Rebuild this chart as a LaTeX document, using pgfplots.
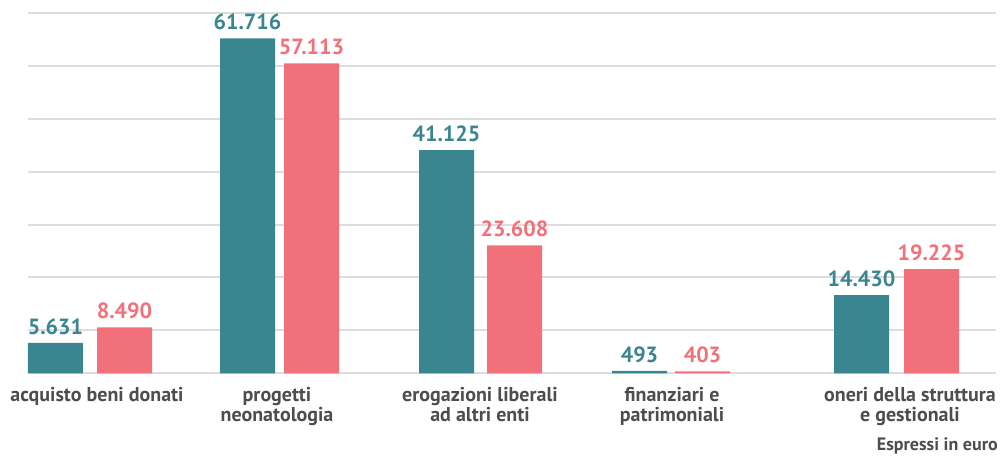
\documentclass[border=0pt]{standalone}
\usepackage{pgfplots}
\pgfplotsset{compat=1.18}
\usepackage{pgfplotstable}
\usepackage{fontspec}
\setmainfont{PT Sans}
\definecolor{tealbar}{HTML}{3A8690}
\definecolor{pinkbar}{HTML}{F2707A}
\definecolor{labgray}{HTML}{4D4D4D}
\definecolor{gridgray}{HTML}{DDDDDD}

% x = bar centre (px of the original layout), y = value in euro
\pgfplotstableread{
x     y
55.5  5631
247.5 61716
446.5 41125
639.5 493
861.5 14430
}\seriesA
\pgfplotstableread{
x     y
124.5 8490
311.5 57113
514.5 23608
702.5 403
931.5 19225
}\seriesB

\begin{document}
\begin{tikzpicture}
\begin{axis}[
    scale only axis,
    width=726pt, height=270pt,
    xmin=28, xmax=996,
    ymin=0, ymax=66298,
    axis line style={draw=none},
    ytick={0,7919,17680,27348,37109,46869,56538,66298},
    yticklabels={},
    scaled y ticks=false,
    ymajorgrids,
    grid style={gridgray, line width=1.5pt},
    major tick length=0pt,
    xtick={97,277,480,672,910},
    xticklabels={acquisto beni donati, progetti\\neonatologia, erogazioni liberali\\ad altri enti, finanziari e\\patrimoniali, oneri della struttura\\e gestionali},
    x tick label style={align=center, font=\bfseries\fontsize{15}{15.5}\selectfont, text=labgray, anchor=north, inner sep=0pt, yshift=-10pt},
    /pgf/number format/fixed,
    /pgf/number format/precision=0,
    /pgf/number format/1000 sep={.},
    /pgf/number format/assume math mode=true,
    clip=false,
]
\addplot[ybar, bar width=41.25pt, bar shift=0pt, fill=tealbar, draw=none,
    point meta=y, nodes near coords,
    nodes near coords style={text=tealbar, font=\bfseries\fontsize{16.5}{16.5}\selectfont, anchor=south, inner sep=0pt, yshift=6pt}]
    table[x=x, y=y] {\seriesA};
\addplot[ybar, bar width=41.25pt, bar shift=0pt, fill=pinkbar, draw=none,
    point meta=y, nodes near coords,
    nodes near coords style={text=pinkbar, font=\bfseries\fontsize{16.5}{16.5}\selectfont, anchor=south, inner sep=0pt, yshift=6pt}]
    table[x=x, y=y] {\seriesB};

\node[anchor=east, inner sep=0pt, text=labgray, font=\bfseries\fontsize{13.5}{13.5}\selectfont]
    at (axis cs:998,-13350) {Espressi in euro};
% page frame of the original picture
\path (axis cs:0,-15930) rectangle (axis cs:1003,68783);
\end{axis}
\end{tikzpicture}
\end{document}
